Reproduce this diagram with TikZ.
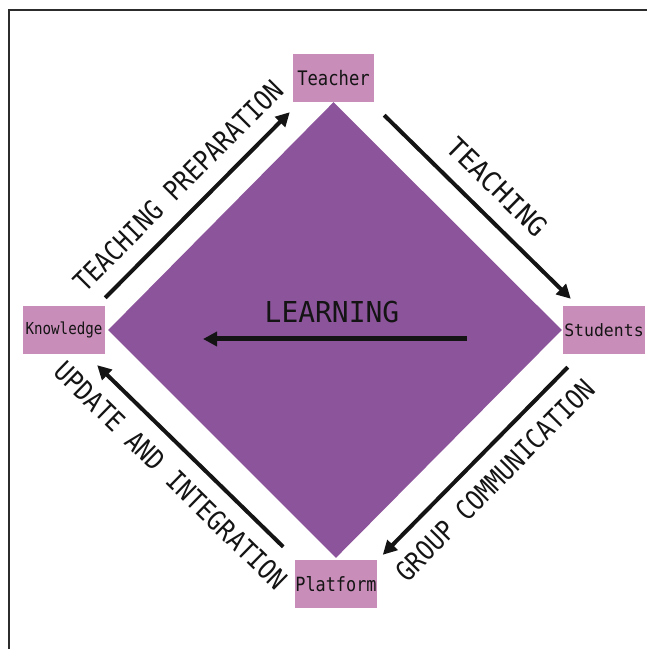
\documentclass[tikz,border=0pt]{standalone}
\usepackage{fontspec}
\usetikzlibrary{arrows.meta,calc}
% Condensed sans monospace faces for all lettering
\newfontfamily\narrowmono[FakeStretch=0.86]{DejaVu Sans Mono}
\newfontfamily\widemono[FakeStretch=0.97]{DejaVu Sans Mono}
\definecolor{diamondpurple}{RGB}{140,85,155}
\definecolor{boxpink}{RGB}{201,141,186}
\definecolor{inkblack}{RGB}{20,20,20}
\begin{document}
\begin{tikzpicture}[x=1pt,y=1pt,
  rolebox/.style={fill=boxpink, minimum height=48pt, inner sep=0pt, text=inkblack},
  flow/.style={draw=inkblack, line width=4pt, -{Triangle[length=14pt,width=14pt]}},
  flowlabel/.style={sloped, inner sep=0pt, text=inkblack,
    font=\narrowmono\fontsize{27.4}{30}\selectfont}
]
\useasboundingbox (0,0) rectangle (647,649);
% frame along the top and left
\draw[line width=2pt, draw=inkblack!90] (647,639) -- (8.5,639) -- (8.5,0);

% the four roles
\node[rolebox, minimum width=81pt, font=\narrowmono\fontsize{20}{24}\selectfont] (teacher) at (333.5,571) {Teacher};
\node[rolebox, minimum width=82pt, font=\narrowmono\fontsize{16.5}{20}\selectfont] (knowledge) at (64,319) {Knowledge};
\node[rolebox, minimum width=82pt, font=\widemono\fontsize{17}{20}\selectfont] (students) at (604,319) {Students};
\node[rolebox, minimum width=80pt, font=\narrowmono\fontsize{19.6}{24}\selectfont] (platform) at (336,65) {Platform};

% central diamond
\fill[diamondpurple] (teacher.south) -- ([xshift=3pt]knowledge.east)
  -- ([yshift=2pt]platform.north) -- ([xshift=-1pt]students.west) -- cycle;

% cycle of arrows around the diamond
\draw[flow] ([shift={(0,8)}]knowledge.north east)
  -- node[flowlabel, above=15pt] {TEACHING PREPARATION}
  ([shift={(-3,-10)}]teacher.south west);
\draw[flow] ([shift={(10,-13)}]teacher.south east)
  -- node[flowlabel, font=\widemono\fontsize{27.4}{30}\selectfont, above=16pt] {TEACHING}
  ([shift={(8,7)}]students.north west);
\draw[flow] ([shift={(5,-13)}]students.south west)
  -- node[flowlabel, below=15pt] {GROUP COMMUNICATION}
  ([shift={(6,5)}]platform.north east);
\draw[flow] ([shift={(-12,13)}]platform.north west)
  -- node[flowlabel, below=15pt] {UPDATE AND INTEGRATION}
  ([shift={(-8,-11)}]knowledge.south east);

% learning arrow inside the diamond
\node[font=\widemono\fontsize{28.8}{32}\selectfont, text=inkblack, inner sep=0pt] (learning) at (332,336.5) {LEARNING};
\coordinate (learnfrom) at (467,310);
\coordinate (learnto) at (203,310);
\draw[flow, line width=5pt] (learnfrom) -- (learnto);
\end{tikzpicture}
\end{document}
